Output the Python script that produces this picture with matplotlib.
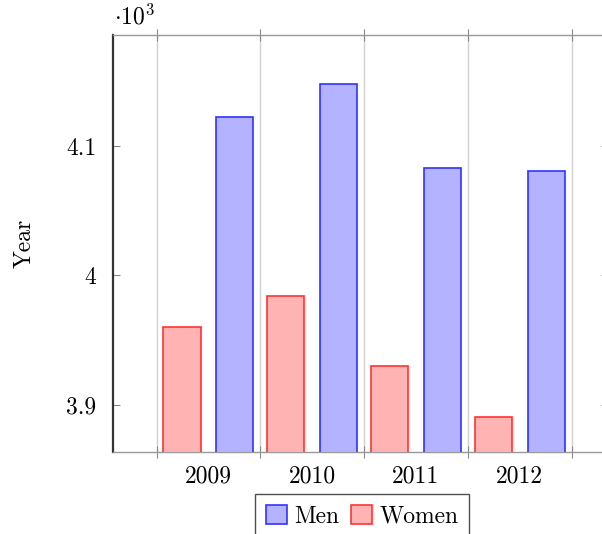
import matplotlib
matplotlib.use("Agg")
import matplotlib.pyplot as plt
from matplotlib.ticker import FixedLocator, FuncFormatter

plt.rcParams["font.family"] = ["cmr10", "DejaVu Serif"]
plt.rcParams["mathtext.fontset"] = "cm"
plt.rcParams["axes.formatter.use_mathtext"] = True

years = [2009, 2010, 2011, 2012]
men = [4122, 4148, 4083, 4081]
women = [3960, 3984, 3930, 3891]

bar_w = 0.357
shift = 0.255

fig = plt.figure(figsize=(6.02, 5.34), dpi=100)
ax = fig.add_axes([0.1877, 0.1536, 0.822, 0.7809])

xs = list(years)
ax.bar([x - shift for x in xs], women, width=bar_w, color="#ffb3b3",
       edgecolor="#ff3333", linewidth=1.2, zorder=3, label="Women")
ax.bar([x + shift for x in xs], men, width=bar_w, color="#b3b3ff",
       edgecolor="#3333ff", linewidth=1.2, zorder=3, label="Men")

ax.set_xlim(2008.08, 2012.85)
ax.set_ylim(3863.7, 4185.7)

# boundaries between years carry the grid and tick marks, labels sit in the middle
ax.xaxis.set_major_locator(FixedLocator([y + 0.5 for y in [2008] + years]))
ax.xaxis.set_major_formatter(FuncFormatter(lambda v, p: ""))
ax.xaxis.set_minor_locator(FixedLocator(years))
ax.xaxis.set_minor_formatter(FuncFormatter(lambda v, p: "%d" % round(v)))
ax.tick_params(axis="x", which="major", direction="inout", length=8,
               color="#888888", top=True)
ax.tick_params(axis="x", which="minor", length=0, labelsize=17, pad=10)
ax.grid(axis="x", which="major", color="#d0d0d0", linewidth=1, zorder=0)

ax.yaxis.set_major_locator(FixedLocator([3900, 4000, 4100]))
ax.yaxis.set_major_formatter(FuncFormatter(lambda v, p: "%g" % (v / 1000)))
ax.tick_params(axis="y", direction="in", length=5, color="#888888",
               right=True, labelsize=17, pad=12)

for s in ["top", "bottom", "right"]:
    ax.spines[s].set_color("#999999")
    ax.spines[s].set_linewidth(1.0)
ax.spines["left"].set_color("#333333")
ax.spines["left"].set_linewidth(1.6)

ax.set_ylabel("Year", fontsize=17, labelpad=22)
fig.text(0.19, 0.945, r"$\cdot 10^{3}$", fontsize=17, ha="left", va="bottom")

h, l = ax.get_legend_handles_labels()
leg = fig.legend(h[::-1], l[::-1], loc="upper center",
                 bbox_to_anchor=(362 / 602, 0.075), ncol=2, fontsize=17,
                 frameon=True, fancybox=False, handlelength=0.9,
                 handleheight=0.9, handletextpad=0.3, columnspacing=0.5,
                 borderpad=0.45, borderaxespad=0)
leg.get_frame().set_edgecolor("#222222")
leg.get_frame().set_linewidth(1.0)

fig.savefig("out.png", dpi=100)
